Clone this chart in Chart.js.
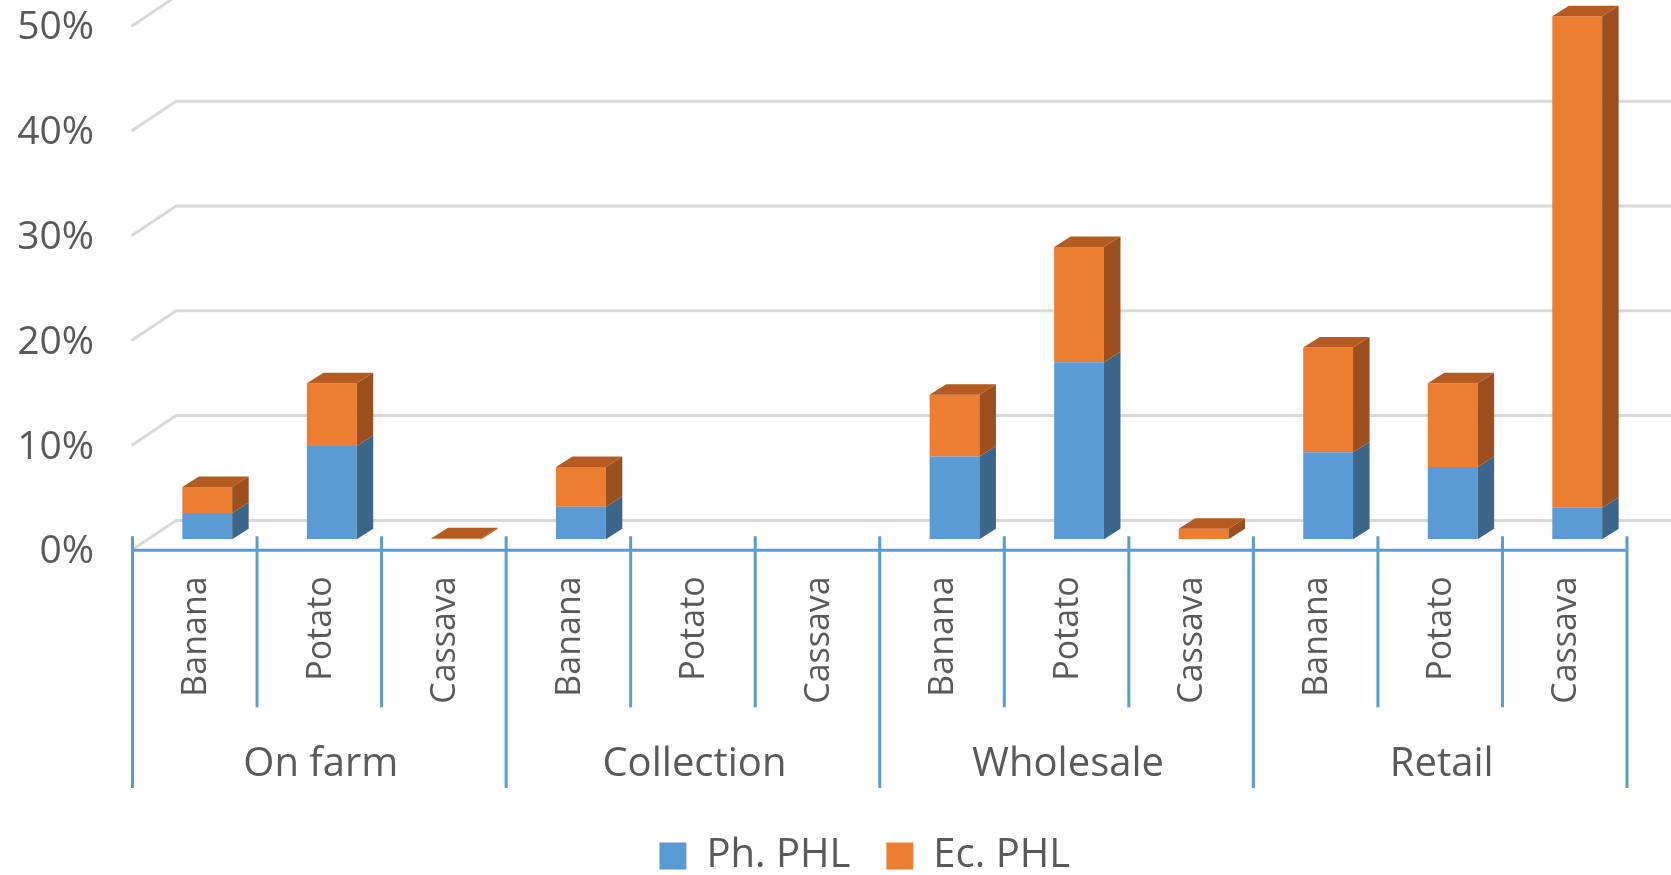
<!DOCTYPE html>
<html>
<head>
<meta charset="utf-8">
<script src="https://cdn.jsdelivr.net/npm/chart.js@4.4.1/dist/chart.umd.min.js"></script>
<style>
  html, body { margin: 0; padding: 0; background: #fff; }
  canvas { display: block; }
</style>
</head>
<body>
<canvas id="phlChart" width="1671" height="875"></canvas>
<script>
// --- data ---
const crops = ['Banana', 'Potato', 'Cassava', 'Banana', 'Potato', 'Cassava',
               'Banana', 'Potato', 'Cassava', 'Banana', 'Potato', 'Cassava'];
const stages = ['On farm', 'Collection', 'Wholesale', 'Retail'];
const phPHL = [2.5, 8.9, 0, 3.1, null, null, 7.9, 16.9, 0, 8.3, 6.9, 3.0];
const ecPHL = [2.5, 6.0, 0.1, 3.8, null, null, 5.9, 11.0, 1.0, 10.0, 8.0, 46.9];
const yTicks = [0, 10, 20, 30, 40, 50];

// --- look ---
const TEXT = '#595959';
const FONT = "'Open Sans', 'Noto Sans', sans-serif";
const BLUE = { front: '#5B9BD5', side: '#3B6589', top: '#4A80B3' };
const ORANGE = { front: '#ED7D31', side: '#9B4F1E', top: '#B55B22' };
const GRID = '#D9D9D9';

// 3d offsets (px)
const BAR_DX = 16.5, BAR_DY = 10.5;   // depth of a bar
const FRONT_DY = 10.9;                 // front wall edge below bar plane
const BACK_DY = 18.9;                  // back wall above bar plane
const WALL_DX = 44.6;
const SHIFT = 12.5;                    // bars sit right of the category centre
const LEGEND_SHIFT = 45;

const threeD = {
  id: 'threeD',
  afterLayout(chart) {
    // legend is centred under the plot, not the canvas
    chart.legend.left += LEGEND_SHIFT;
    chart.legend.right += LEGEND_SHIFT;
  },
  beforeDatasetsDraw(chart) {
    const { ctx, scales: { x, x2, y } } = chart;
    const x0 = x.left - SHIFT;
    ctx.save();
    // walls
    ctx.strokeStyle = GRID;
    ctx.lineWidth = 3;
    yTicks.forEach(v => {
      const p = y.getPixelForValue(v);
      ctx.beginPath();
      ctx.moveTo(x0 - 1, p + FRONT_DY);
      ctx.lineTo(x0 - 1 + WALL_DX, p - BACK_DY);
      ctx.lineTo(chart.width, p - BACK_DY);
      ctx.stroke();
    });
    // category axis
    const step = (x.right - x.left) / crops.length;
    const axisY = y.getPixelForValue(0) + FRONT_DY;
    ctx.strokeStyle = BLUE.front;
    ctx.beginPath();
    ctx.moveTo(x0, axisY);
    ctx.lineTo(x0 + step * crops.length, axisY);
    for (let k = 0; k <= crops.length; k++) {
      const sx = x0 + k * step;
      ctx.moveTo(sx, axisY - 14);
      ctx.lineTo(sx, k % 3 === 0 ? x2.bottom - 12 : x.bottom);
    }
    ctx.stroke();
    ctx.restore();
  },
  afterDatasetsDraw(chart) {
    const { ctx } = chart;
    const faces = [BLUE, ORANGE];
    const metas = chart.data.datasets.map((d, i) => chart.getDatasetMeta(i));
    ctx.save();
    for (let i = 0; i < crops.length; i++) {
      let topIdx = -1;
      metas.forEach((meta, d) => {
        const v = chart.data.datasets[d].data[i];
        if (v === null || v <= 0) return;
        topIdx = d;
        const { x, y, base, width } = meta.data[i].getProps(['x', 'y', 'base', 'width'], true);
        const r = x + width / 2;
        ctx.fillStyle = faces[d].side;
        ctx.beginPath();
        ctx.moveTo(r, y);
        ctx.lineTo(r + BAR_DX, y - BAR_DY);
        ctx.lineTo(r + BAR_DX, base - BAR_DY);
        ctx.lineTo(r, base);
        ctx.closePath();
        ctx.fill();
      });
      if (topIdx < 0) continue;
      const { x, y, width } = metas[topIdx].data[i].getProps(['x', 'y', 'width'], true);
      const l = x - width / 2, r = x + width / 2;
      ctx.fillStyle = faces[topIdx].top;
      ctx.beginPath();
      ctx.moveTo(l, y);
      ctx.lineTo(r, y);
      ctx.lineTo(r + BAR_DX, y - BAR_DY);
      ctx.lineTo(l + BAR_DX, y - BAR_DY);
      ctx.closePath();
      ctx.fill();
    }
    ctx.restore();
  }
};

const noPad = (s) => { s.paddingTop = 0; s.paddingBottom = 0; s.paddingLeft = 0; s.paddingRight = 0; };

new Chart(document.getElementById('phlChart'), {
  type: 'bar',
  data: {
    labels: crops,
    datasets: [
      { label: 'Ph. PHL', data: phPHL, backgroundColor: BLUE.front },
      { label: 'Ec. PHL', data: ecPHL, backgroundColor: ORANGE.front }
    ]
  },
  options: {
    responsive: false,
    animation: false,
    events: [],
    categoryPercentage: 1,
    barPercentage: 0.4,
    layout: { padding: { left: 0, right: 31.5, top: 15.3, bottom: -11 } },
    plugins: {
      tooltip: { enabled: false },
      legend: {
        position: 'bottom',
        labels: {
          boxWidth: 27,
          boxHeight: 27,
          padding: 36,
          color: TEXT,
          font: { family: FONT, size: 40 }
        }
      }
    },
    scales: {
      x: {
        stacked: true,
        grid: { display: false },
        border: { display: false },
        ticks: {
          autoSkip: false,
          minRotation: 90,
          maxRotation: 90,
          padding: 29,
          labelOffset: -11,
          color: TEXT,
          font: { family: FONT, size: 34 }
        },
        afterFit: (s) => { s.height = 168; noPad(s); }
      },
      x2: {
        type: 'category',
        position: 'bottom',
        labels: stages,
        offset: true,
        grid: { display: false },
        border: { display: false },
        ticks: {
          padding: 25,
          labelOffset: -11,
          maxRotation: 0,
          color: TEXT,
          font: { family: FONT, size: 40 }
        },
        afterFit: (s) => { s.height = 92.7; noPad(s); }
      },
      y: {
        stacked: true,
        min: 0,
        max: 50,
        grid: { display: false },
        border: { display: false },
        ticks: {
          stepSize: 10,
          padding: 43,
          labelOffset: FRONT_DY + 2,
          color: TEXT,
          font: { family: FONT, size: 39 },
          callback: (v) => v + '%'
        },
        afterFit: (s) => { s.width = 145; noPad(s); }
      }
    }
  },
  plugins: [threeD]
});
</script>
</body>
</html>
